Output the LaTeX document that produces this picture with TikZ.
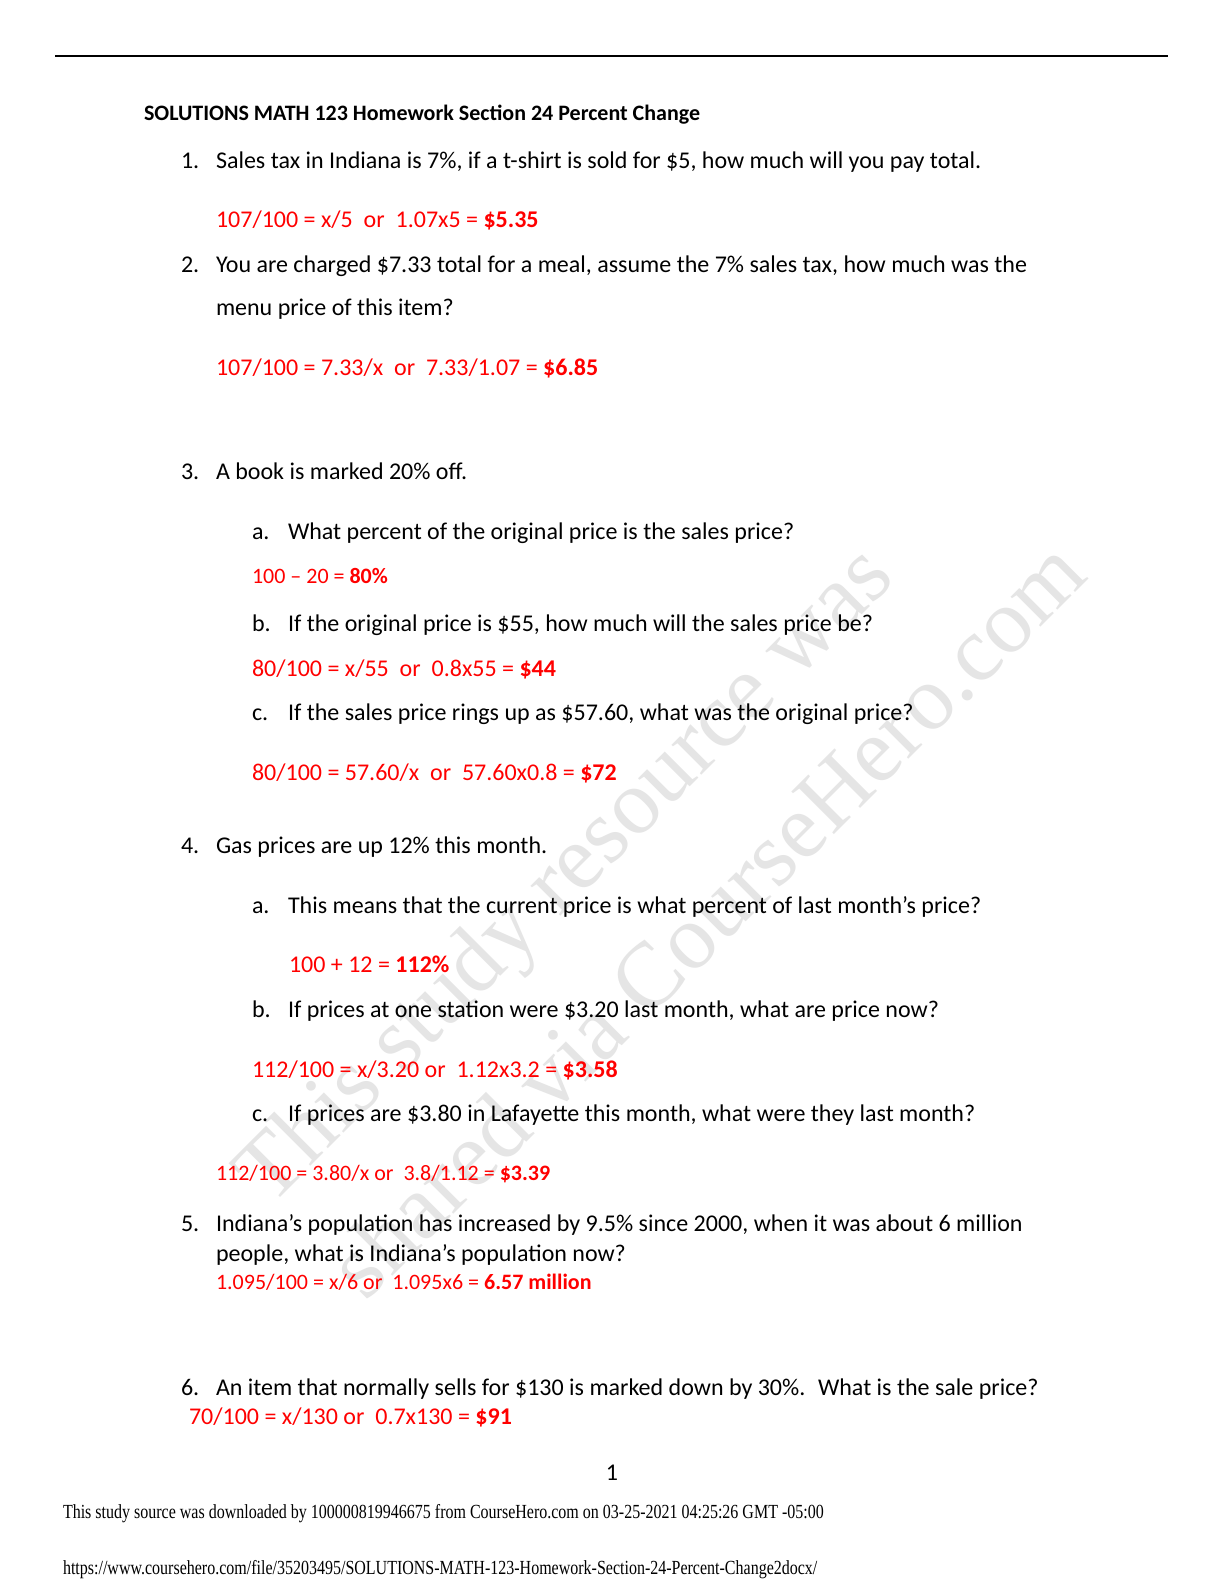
\documentclass[tikz,border=0pt]{standalone}
\usepackage{fontspec}
\setmainfont{Carlito}
\newfontfamily\timesf{Liberation Serif}
\definecolor{ansred}{RGB}{255,0,0}
\definecolor{wm}{RGB}{229,229,229}
\begin{document}
\begin{tikzpicture}[x=0.5pt,y=-0.5pt,
  every node/.style={inner sep=0pt,outer sep=0pt},
  body/.style={anchor=base west,font=\fontsize{12}{14}\selectfont},
  ans/.style={anchor=base west,text=ansred,font=\fontsize{12}{14}\selectfont},
  head/.style={anchor=base west,font=\fontsize{11}{13}\selectfont\bfseries},
  foot/.style={anchor=base west,font=\timesf\fontsize{10}{12}\selectfont},
  wmark/.style={font=\timesf\fontsize{46}{50}\selectfont,text=wm,rotate=45}]
\useasboundingbox[fill=white] (0,0) rectangle (1224,1584);
% watermark
\node[wmark] (wm1) at (568,878) {This study resource was};
\node[wmark] (wm2) at (706,918) {shared via CourseHero.com};
% top rule
\coordinate (rl) at (55,56);
\coordinate (rr) at (1168,56);
\draw[line width=1pt] (rl) -- (rr);
\begin{scope}[shift={(0,2.5)}]
\node[head] (h) at (144,118) {SOLUTIONS MATH 123 Homework Section 24 Percent Change};
% 1
\node[body] (n1) at (181,166) {1.};
\node[body] (q1) at (216,166) {Sales tax in Indiana is 7\%, if a t-shirt is sold for \$5, how much will you pay total.};
\node[ans] (a1) at (216,225) {107/100 = x/5 \ or \ 1.07x5 = \textbf{\$5.35}};
% 2
\node[body] (n2) at (181,270) {2.};
\node[body] (q2) at (216,270) {You are charged \$7.33 total for a meal, assume the 7\% sales tax, how much was the};
\node[body] (q2b) at (216,313) {menu price of this item?};
\node[ans] (a2) at (216,373) {107/100 = 7.33/x \ or \ 7.33/1.07 = \textbf{\$6.85}};
% 3
\node[body] (n3) at (181,477) {3.};
\node[body] (q3) at (216,477) {A book is marked 20\% off.};
\node[body] (l3a) at (252,537) {a.};
\node[body] (q3a) at (288,537) {What percent of the original price is the sales price?};
\node[ans,font=\fontsize{11}{13}\selectfont] (a3a) at (252,581) {100 – 20 = \textbf{80\%}};
\node[body] (l3b) at (252,629) {b.};
\node[body] (q3b) at (288,629) {If the original price is \$55, how much will the sales price be?};
\node[ans] (a3b) at (252,674) {80/100 = x/55 \ or \ 0.8x55 = \textbf{\$44}};
\node[body] (l3c) at (252,718) {c.};
\node[body] (q3c) at (288,718) {If the sales price rings up as \$57.60, what was the original price?};
\node[ans] (a3c) at (252,778) {80/100 = 57.60/x \ or \ 57.60x0.8 = \textbf{\$72}};
% 4
\node[body] (n4) at (181,851) {4.};
\node[body] (q4) at (216,851) {Gas prices are up 12\% this month.};
\node[body] (l4a) at (252,911) {a.};
\node[body] (q4a) at (288,911) {This means that the current price is what percent of last month’s price?};
\node[ans] (a4a) at (289,970) {100 + 12 = \textbf{112\%}};
\node[body] (l4b) at (252,1015) {b.};
\node[body] (q4b) at (288,1015) {If prices at one station were \$3.20 last month, what are price now?};
\node[ans] (a4b) at (252,1075) {112/100 = x/3.20 or \ 1.12x3.2 = \textbf{\$3.58}};
\node[body] (l4c) at (252,1119) {c.};
\node[body] (q4c) at (288,1119) {If prices are \$3.80 in Lafayette this month, what were they last month?};
\node[ans,font=\fontsize{11}{13}\selectfont] (a4c) at (216,1178) {112/100 = 3.80/x or \ 3.8/1.12 = \textbf{\$3.39}};
% 5
\node[body] (n5) at (181,1229) {5.};
\node[body] (q5) at (216,1229) {Indiana’s population has increased by 9.5\% since 2000, when it was about 6 million};
\node[body] (q5b) at (216,1259) {people, what is Indiana’s population now?};
\node[ans,font=\fontsize{11}{13}\selectfont] (a5) at (216,1287) {1.095/100 = x/6 or \ 1.095x6 = \textbf{6.57 million}};
% 6
\node[body] (n6) at (181,1393) {6.};
\node[body] (q6) at (216,1393) {An item that normally sells for \$130 is marked down by 30\%. \ What is the sale price?};
\node[ans] (a6) at (189,1422) {70/100 = x/130 or \ 0.7x130 = \textbf{\$91}};
% page number and footer
\node[anchor=base,font=\fontsize{12}{14}\selectfont] (pg) at (612,1478) {1};
\node[foot] (f1) at (63,1516) {\scalebox{0.8}[1]{This study source was downloaded by 100000819946675 from CourseHero.com on 03-25-2021 04:25:26 GMT -05:00}};
\node[foot] (f2) at (63,1572) {\scalebox{0.8}[1]{https://www.coursehero.com/file/35203495/SOLUTIONS-MATH-123-Homework-Section-24-Percent-Change2docx/}};
\end{scope}
\end{tikzpicture}
\end{document}
